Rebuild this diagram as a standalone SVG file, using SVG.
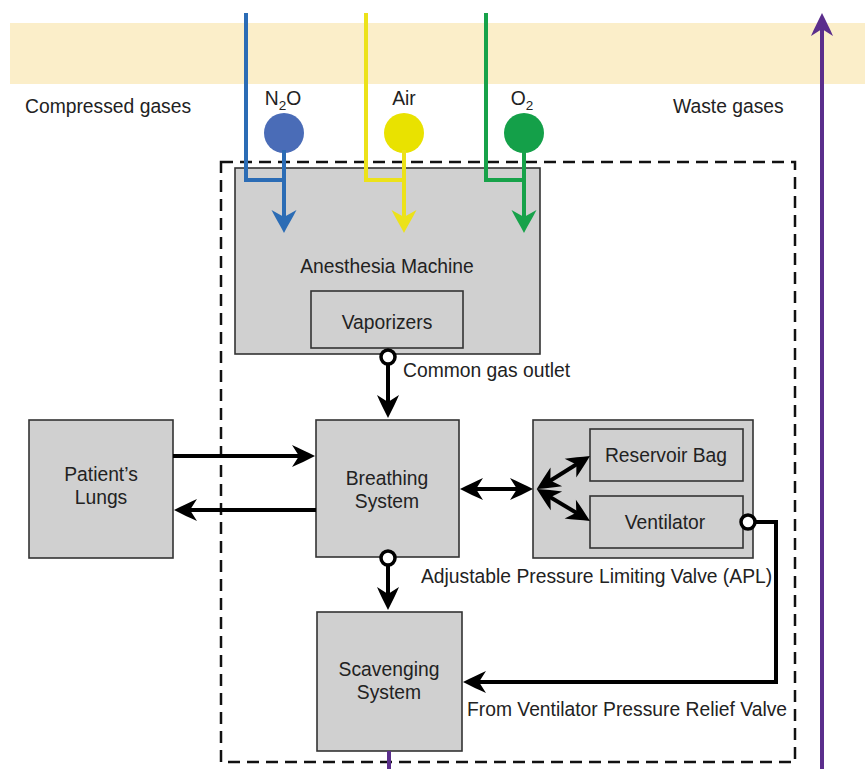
<svg xmlns="http://www.w3.org/2000/svg" width="865" height="769" viewBox="0 0 865 769">
  <style>
    .lbl { font-family: "Liberation Sans", Arial, sans-serif; font-size: 19.3px; fill: #222; }
    .mid { text-anchor: middle; }
    .box { fill: #d0d0d0; stroke: #333; stroke-width: 1.6; }
    .wire { fill: none; stroke: #000; stroke-width: 4; }
    .port { fill: #fff; stroke: #000; stroke-width: 3.5; }
  </style>
  <defs>
    <marker id="ah-k" viewBox="0 -12 24 24" markerWidth="24" markerHeight="24" refX="12" refY="0" orient="auto-start-reverse" markerUnits="userSpaceOnUse">
      <path d="M24,0 C16,-4 8,-8 1,-11 L8,0 L1,11 C8,8 16,4 24,0 Z" fill="#000"/>
    </marker>
    <marker id="ah-b" viewBox="0 -13 24 26" markerWidth="24" markerHeight="26" refX="12" refY="0" orient="auto" markerUnits="userSpaceOnUse">
      <path d="M24,0 C16,-4 8,-9 1,-12.5 L8,0 L1,12.5 C8,9 16,4 24,0 Z" fill="#2b6cb5"/>
    </marker>
    <marker id="ah-y" viewBox="0 -13 24 26" markerWidth="24" markerHeight="26" refX="12" refY="0" orient="auto" markerUnits="userSpaceOnUse">
      <path d="M24,0 C16,-4 8,-9 1,-12.5 L8,0 L1,12.5 C8,9 16,4 24,0 Z" fill="#ece21a"/>
    </marker>
    <marker id="ah-g" viewBox="0 -13 24 26" markerWidth="24" markerHeight="26" refX="12" refY="0" orient="auto" markerUnits="userSpaceOnUse">
      <path d="M24,0 C16,-4 8,-9 1,-12.5 L8,0 L1,12.5 C8,9 16,4 24,0 Z" fill="#17a24a"/>
    </marker>
    <marker id="ah-p" viewBox="0 -12 24 24" markerWidth="24" markerHeight="24" refX="12" refY="0" orient="auto" markerUnits="userSpaceOnUse">
      <path d="M24,0 C16,-4 8,-8 1,-11 L8,0 L1,11 C8,8 16,4 24,0 Z" fill="#5b2e8c"/>
    </marker>
  </defs>

  <rect width="865" height="769" fill="#fff"/>

  <!-- gas supply band -->
  <rect id="band" x="10" y="23" width="855" height="61" fill="#fbeec9"/>
  <text class="lbl" x="25" y="113">Compressed gases</text>
  <text class="lbl" x="673" y="113">Waste gases</text>

  <!-- machine boundary -->
  <rect id="boundary" x="221" y="162" width="574" height="600" fill="none" stroke="#111" stroke-width="2.5" stroke-dasharray="12 7"/>

  <g id="anesthesia-machine">
    <rect class="box" x="235" y="168" width="305" height="186"/>
    <text class="lbl mid" x="387" y="273">Anesthesia Machine</text>
  </g>
  <g id="vaporizers">
    <rect class="box" x="311" y="291" width="152" height="57"/>
    <text class="lbl mid" x="387" y="329">Vaporizers</text>
  </g>
  <g id="patients-lungs">
    <rect class="box" x="29" y="420" width="144" height="138"/>
    <text class="lbl mid" x="101" y="481">Patient’s</text>
    <text class="lbl mid" x="101" y="504">Lungs</text>
  </g>
  <g id="breathing-system">
    <rect class="box" x="316" y="420" width="143" height="137"/>
    <text class="lbl mid" x="387" y="485">Breathing</text>
    <text class="lbl mid" x="387" y="508">System</text>
  </g>
  <g id="bag-ventilator">
    <rect class="box" x="533" y="420" width="220" height="138"/>
  </g>
  <g id="reservoir-bag">
    <rect class="box" x="590" y="429" width="153" height="52"/>
    <text class="lbl mid" x="666" y="462">Reservoir Bag</text>
  </g>
  <g id="ventilator">
    <rect class="box" x="590" y="496" width="153" height="52"/>
    <text class="lbl mid" x="665" y="529">Ventilator</text>
  </g>
  <g id="scavenging-system">
    <rect class="box" x="317" y="612" width="145" height="139"/>
    <text class="lbl mid" x="389" y="676">Scavenging</text>
    <text class="lbl mid" x="389" y="699">System</text>
  </g>

  <g id="gas-sources">
    <g id="n2o">
      <circle cx="284" cy="133" r="20" fill="#4a6cb7"/>
      <text class="lbl mid" x="283" y="105">N<tspan font-size="13.5" dy="5">2</tspan><tspan dy="-5">O</tspan></text>
    </g>
    <g id="air">
      <circle cx="404" cy="133" r="20" fill="#e9e200"/>
      <text class="lbl mid" x="404" y="105">Air</text>
    </g>
    <g id="o2">
      <circle cx="524" cy="133" r="20" fill="#14a049"/>
      <text class="lbl mid" x="522" y="105">O<tspan font-size="13.5" dy="5">2</tspan></text>
    </g>
  </g>

  <g id="connectors">
    <!-- pipeline and cylinder supplies -->
    <g fill="none" stroke-width="4">
      <path d="M246,13 V180 H284" stroke="#2b6cb5"/>
      <path d="M284,150 V221" stroke="#2b6cb5" marker-end="url(#ah-b)"/>
      <path d="M366,13 V180 H404" stroke="#ece21a"/>
      <path d="M404,150 V221" stroke="#ece21a" marker-end="url(#ah-y)"/>
      <path d="M486,13 V180 H524" stroke="#17a24a"/>
      <path d="M524,150 V221" stroke="#17a24a" marker-end="url(#ah-g)"/>
    </g>

    <!-- common gas outlet -->
    <path class="wire" d="M388,364 V406" marker-end="url(#ah-k)"/>
    <circle class="port" cx="388" cy="357" r="7"/>
    <text class="lbl" x="403" y="377">Common gas outlet</text>

    <!-- patient limbs -->
    <path class="wire" d="M173,456 H303" marker-end="url(#ah-k)"/>
    <path class="wire" d="M316,510 H186" marker-end="url(#ah-k)"/>

    <!-- breathing system to bag / ventilator -->
    <path class="wire" d="M472,489 H521" marker-start="url(#ah-k)" marker-end="url(#ah-k)"/>
    <path class="wire" d="M547,482.7 L579.8,462.3" marker-start="url(#ah-k)" marker-end="url(#ah-k)"/>
    <path class="wire" d="M547,495.2 L579.7,514.8" marker-start="url(#ah-k)" marker-end="url(#ah-k)"/>

    <!-- APL valve to scavenging -->
    <path class="wire" d="M388,565 V598" marker-end="url(#ah-k)"/>
    <circle class="port" cx="388" cy="558" r="7"/>
    <text class="lbl" x="421" y="583">Adjustable Pressure Limiting Valve (APL)</text>

    <!-- ventilator relief valve to scavenging -->
    <path class="wire" d="M755,522 H776 V682 H475" marker-end="url(#ah-k)"/>
    <circle class="port" cx="748" cy="522" r="7"/>
    <text class="lbl" x="467" y="716">From Ventilator Pressure Relief Valve</text>

    <!-- waste gas disposal -->
    <path d="M389,751 V769" fill="none" stroke="#5b2e8c" stroke-width="4"/>
    <path d="M822,769 V25" fill="none" stroke="#5b2e8c" stroke-width="4" marker-end="url(#ah-p)"/>
  </g>
</svg>
